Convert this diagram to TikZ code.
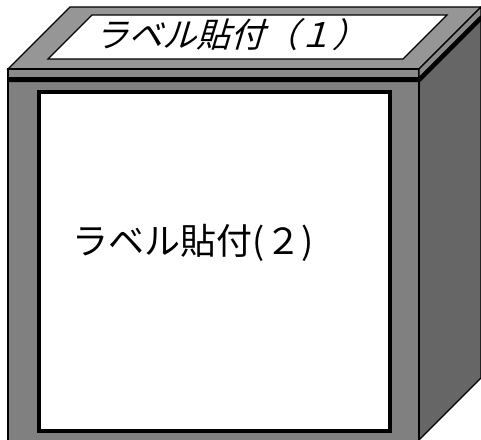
\documentclass[tikz,border=0pt]{standalone}
\usepackage{fontspec}
\newfontfamily\jpfont{Noto Sans CJK JP}
\usepackage{tikz}
\definecolor{topgray}{gray}{0.59}
\definecolor{lidgray}{gray}{0.54}
\definecolor{frontgray}{gray}{0.50}
\definecolor{sidegray}{gray}{0.40}

\begin{document}
\begin{tikzpicture}[x=1pt,y=1pt,line join=miter]
    \useasboundingbox (0,0) rectangle (481,439);
    \begin{scope}
        % Seitenflaeche
        \draw
        [fill=sidegray,line width=1.2pt](419,361) -- (481,423) -- (481,61) -- (419,-1) -- cycle;
        % Vorderseite
        \draw
        [fill=frontgray,line width=1.5pt](8,361) rectangle (419,-10);
        % Deckel
        \draw
        [fill=topgray,line width=1.2pt](8,370) -- (70,432) -- (481,432) -- (419,370) -- cycle;
        \draw
        [fill=lidgray,line width=1.2pt](8,370) -- (419,370) -- (419,361) -- (8,361) -- cycle;
        \draw
        [fill=lidgray,line width=1.2pt](419,370) -- (481,432) -- (481,423) -- (419,361) -- cycle;
        \draw
        [line width=4.5pt](8,359) -- (419,359) -- (481,421);
        % Etiketten
        \draw
        [fill=white,line width=1.2pt](48,380) -- (92,424) -- (447,424) -- (403,380) -- cycle;
        \draw
        [fill=white,line width=3.5pt](39,347) rectangle (390,8);
    \end{scope}
    \node[xslant=0.3,transform shape,font=\jpfont\fontsize{34}{34}\selectfont] (toplabel) at (234,404) {ラベル貼付（１）};
    \node[font=\jpfont\fontsize{36}{36}\selectfont] (frontlabel) at (193,196) {ラベル貼付(２)};
\end{tikzpicture}
\end{document}
